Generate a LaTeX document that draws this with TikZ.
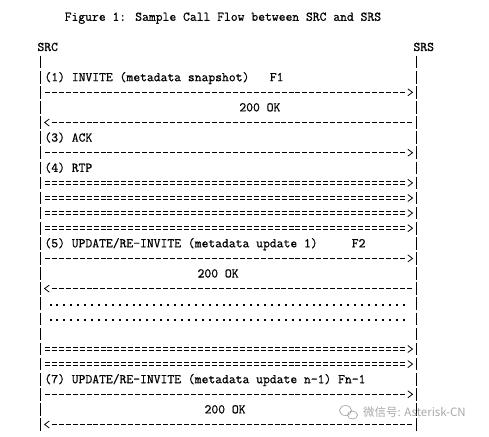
\documentclass[tikz,border=0pt]{standalone}
\usepackage{fontspec}
\newfontfamily\cjkwm{Noto Sans CJK SC}
\newfontfamily\codefont{Latin Modern Mono}[FakeBold=0.7]
\definecolor{wmgray}{HTML}{A8A8A8}
\newcommand{\RY}[1]{(47+15.1*(#1))}
\begin{document}
\begin{tikzpicture}[x=1pt,y=-1pt,
  txt/.style={anchor=base west, inner sep=0pt, font=\codefont\fontsize{13.26}{15}\selectfont},
  life/.style={line width=0.8pt, dash pattern=on 12.6pt off 2.5pt},
  dashln/.style={line width=0.8pt, dash pattern=on 5pt off 1.963pt},
  chev/.style={line width=0.8pt},
  dotmark/.style={fill=black, draw=none}
]
\useasboundingbox (0,0) rectangle (489,436);

% title and participants
\node[txt] (title) at (64.5,{\RY{-2}+4}) {Figure 1: Sample Call Flow between SRC and SRS};
\node[txt] (src) at (37.3,{\RY{0}+4}) {SRC};
\node[txt] (srs) at (413.3,{\RY{0}+4}) {SRS};

% lifelines
\coordinate (srctop) at (40.8,{\RY{1}-6.3});
\coordinate (srcbot) at (40.8,{\RY{25}+6.3});
\coordinate (srstop) at (416.8,{\RY{1}-6.3});
\coordinate (srsbot) at (416.8,{\RY{25}+6.3});
\draw[life] (srctop) -- (srcbot);
\draw[life] (srstop) -- (srsbot);

% labels
\node[txt] (m1) at (44.3,{\RY{2}+4}) {(1) INVITE (metadata snapshot)~~~F1};
\node[txt] (ok1) at (239.2,{\RY{4}+4}) {200 OK};
\node[txt] (m3) at (44.3,{\RY{6}+4}) {(3) ACK};
\node[txt] (m4) at (44.3,{\RY{8}+4}) {(4) RTP};
\node[txt] (m5) at (44.3,{\RY{13}+4}) {(5) UPDATE/RE-INVITE (metadata update 1)~~~~~F2};
\node[txt] (ok2) at (197.4,{\RY{15}+4}) {200 OK};
\node[txt] (m7) at (44.3,{\RY{22}+4}) {(7) UPDATE/RE-INVITE (metadata update n-1) Fn-1};
\node[txt] (ok3) at (204.4,{\RY{24}+4}) {200 OK};

% right-pointing dashed arrows
\foreach \r in {3,7,14,23} {
  \coordinate (ra\r) at (44.8,{\RY{\r}});
  \coordinate (rb\r) at (406.3,{\RY{\r}});
  \draw[dashln] (ra\r) -- (rb\r);
  \draw[chev] (407.8,{\RY{\r}-3.5}) -- (412.5,{\RY{\r}}) -- (407.8,{\RY{\r}+3.5});
}

% left-pointing dashed arrows
\foreach \r in {5,16,25} {
  \coordinate (la\r) at (413.3,{\RY{\r}});
  \coordinate (lb\r) at (51.7,{\RY{\r}});
  \draw[dashln] (lb\r) -- (la\r);
  \draw[chev] (49.3,{\RY{\r}-3.5}) -- (44.6,{\RY{\r}}) -- (49.3,{\RY{\r}+3.5});
}

% double (RTP) arrows
\foreach \r in {9,10,11,12,20,21} {
  \coordinate (da\r) at (44.8,{\RY{\r}-1.6});
  \coordinate (db\r) at (406.3,{\RY{\r}-1.6});
  \coordinate (dc\r) at (44.8,{\RY{\r}+1.6});
  \coordinate (dd\r) at (406.3,{\RY{\r}+1.6});
  \draw[dashln] (da\r) -- (db\r);
  \draw[dashln] (dc\r) -- (dd\r);
  \draw[chev] (407.8,{\RY{\r}-3.5}) -- (412.5,{\RY{\r}}) -- (407.8,{\RY{\r}+3.5});
}

% dotted rows
\foreach \r in {17,18} {
  \foreach \k in {0,...,51} {
    \fill[dotmark] ({50.5+\k*6.9216-1},{\RY{\r}+1.5-1}) rectangle ++(2,2);
  }
}

% watermark
\draw[wmgray, line width=0.7pt] (345.5,410.5) ellipse (6 and 5);
\draw[wmgray, line width=0.7pt] (352.5,415) ellipse (5 and 4);
\node[anchor=west, inner sep=0pt, font=\cjkwm\fontsize{11.5}{12}\selectfont, text=wmgray] (wm) at (363,412.5) {微信号: Asterisk-CN};
\end{tikzpicture}
\end{document}
